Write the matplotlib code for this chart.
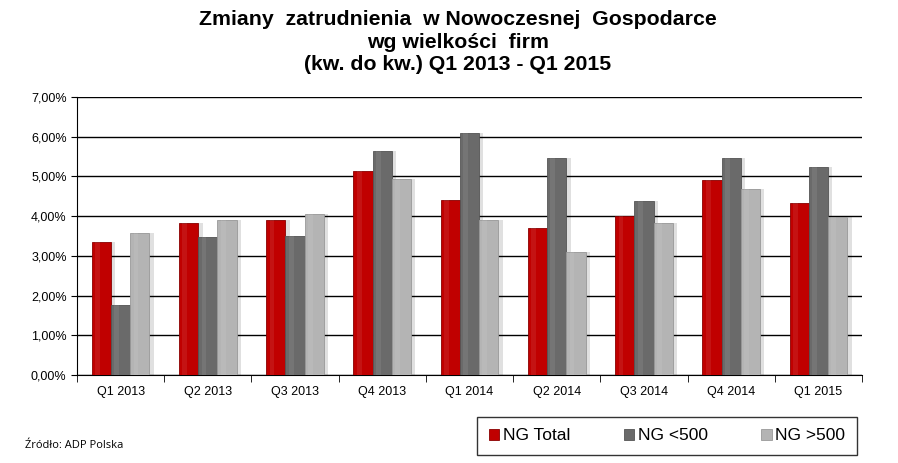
import numpy as np
import matplotlib.pyplot as plt
from matplotlib.ticker import FuncFormatter, FixedLocator

plt.rcParams['font.family'] = ['Liberation Sans', 'DejaVu Sans']

# Data
quarters = ["Q1 2013", "Q2 2013", "Q3 2013", "Q4 2013", "Q1 2014",
            "Q2 2014", "Q3 2014", "Q4 2014", "Q1 2015"]
ng_total = [3.35, 3.83, 3.90, 5.14, 4.41, 3.70, 4.00, 4.91, 4.33]
ng_small = [1.76, 3.48, 3.50, 5.64, 6.10, 5.47, 4.38, 5.47, 5.24]
ng_large = [3.58, 3.90, 4.05, 4.94, 3.90, 3.10, 3.83, 4.68, 3.98]
series_names = ["NG Total", "NG <500", "NG >500"]
colors = ["#C00000", "#6A6A6A", "#B4B4B4"]
edges = ["#8A0000", "#555555", "#999999"]

fig = plt.figure(figsize=(8.98, 4.63), dpi=100)
ax = fig.add_axes([77/898, 1 - 375/463, 785/898, 278/463])

x = np.arange(len(quarters))
w = 0.22
for i, (vals, c, ec, name) in enumerate(zip([ng_total, ng_small, ng_large], colors, edges, series_names)):
    pos = x + (i - 1) * w
    # soft shadow
    ax.bar(pos + 0.05, vals, w, color="#000000", alpha=0.12, zorder=2, linewidth=0)
    ax.bar(pos, vals, w, color=c, edgecolor=ec, linewidth=0.6, zorder=3, label=name)
    # bevel highlight strip
    ax.bar(pos - w * 0.2, vals, w * 0.25, color="white", alpha=0.08, zorder=4, linewidth=0)

ax.set_xlim(-0.5, len(quarters) - 0.5)
ax.set_ylim(0, 7)
ax.yaxis.set_major_locator(FixedLocator(np.arange(0, 7.01, 1)))
ax.yaxis.set_major_formatter(FuncFormatter(lambda v, p: f"{v:.2f}%".replace(".", ",")))
ax.grid(axis="y", color="black", linewidth=1.0, zorder=1)
ax.set_axisbelow(True)

ax.set_xticks(x)
ax.set_xticklabels(quarters)
ax.set_xticks(np.arange(-0.5, len(quarters), 1), minor=True)
ax.tick_params(axis="x", which="major", length=0, pad=8, labelsize=9)
ax.tick_params(axis="x", which="minor", length=5, direction="out", color="black")
ax.tick_params(axis="y", length=4, labelsize=9, color="black")

for s in ["top", "right"]:
    ax.spines[s].set_visible(False)
ax.spines["left"].set_color("black")
ax.spines["bottom"].set_color("black")

fig.text(458/898, 1 - 10/463,
         "Zmiany  zatrudnienia  w Nowoczesnej  Gospodarce\nwg wielkości  firm\n(kw. do kw.) Q1 2013 - Q1 2015",
         ha="center", va="top", fontsize=15.3, fontweight="bold", linespacing=1.25)

leg = fig.legend(loc="center", bbox_to_anchor=(667/898, 1 - 436/463), ncol=3,
                 frameon=True, fancybox=False, edgecolor="black", fontsize=12.5,
                 handlelength=0.6, handleheight=0.6, handletextpad=0.2,
                 columnspacing=3.1, borderpad=0.65, borderaxespad=0)
leg.get_frame().set_linewidth(1.0)

fig.text(25/898, 1 - 446/463, "Źródło: ADP Polska", fontsize=8,
         family=["Open Sans", "DejaVu Sans"], va="center")

fig.savefig("out.png", dpi=100)
